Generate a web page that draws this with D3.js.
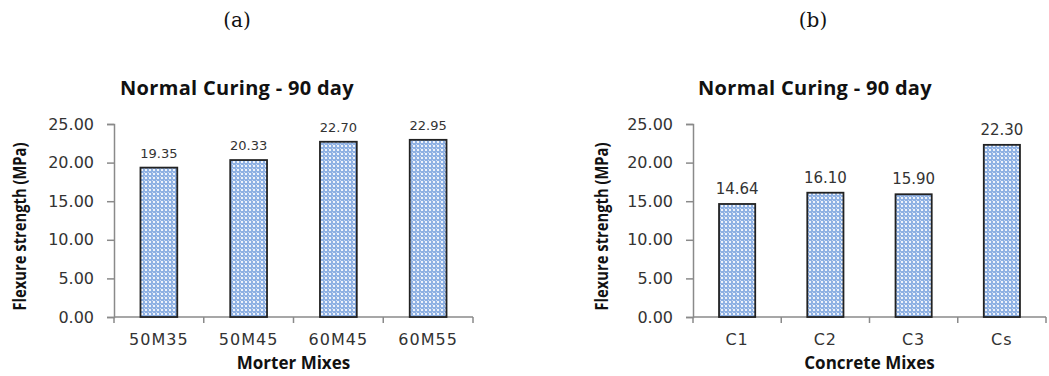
<!DOCTYPE html>
<html>
<head>
<meta charset="utf-8">
<script src="https://cdn.jsdelivr.net/npm/d3@7"></script>
<style>
  body { margin: 0; background: #fff; }
  svg { display: block; }
</style>
</head>
<body>
<svg id="chart"></svg>
<script>
// data
const mortarMixes = ['50M35', '50M45', '60M45', '60M55'];
const mortarStrength = [19.35, 20.33, 22.70, 22.95];
const concreteMixes = ['C1', 'C2', 'C3', 'Cs'];
const concreteStrength = [14.64, 16.10, 15.90, 22.30];
const yTicks = [0, 5, 10, 15, 20, 25];

const svg = d3.select('#chart')
  .attr('width', 1049)
  .attr('height', 376);

// hatch pattern like the excel fill
const defs = svg.append('defs');
const pat = defs.append('pattern')
  .attr('id', 'hatch')
  .attr('patternUnits', 'userSpaceOnUse')
  .attr('width', 4)
  .attr('height', 4);
pat.append('rect').attr('width', 4).attr('height', 4).attr('fill', '#8fb1e3');
pat.append('rect').attr('x', 1).attr('y', 1).attr('width', 2).attr('height', 2).attr('fill', '#eef3fb');
pat.append('rect').attr('x', 0).attr('y', 0).attr('width', 1).attr('height', 1).attr('fill', '#c9d9f2');

function drawPanel(cfg) {
  let g = svg.append('g');

  let x = d3.scaleBand()
    .domain(cfg.cats)
    .range([cfg.left, cfg.right])
    .paddingInner(0)
    .paddingOuter(0);

  let y = d3.scaleLinear()
    .domain([0, 25])
    .range([cfg.bottom, cfg.top]);

  // panel letter
  g.append('text')
    .attr('x', cfg.letterX)
    .attr('y', 27)
    .attr('text-anchor', 'middle')
    .style('font-family', '"DejaVu Serif", "Liberation Serif", serif')
    .style('font-size', '20px')
    .attr('fill', '#111')
    .text(cfg.letter);

  // title
  g.append('text')
    .attr('x', cfg.titleX)
    .attr('y', 95)
    .attr('text-anchor', 'middle')
    .style('font-family', '"Open Sans", sans-serif')
    .style('font-weight', 'bold')
    .style('font-size', '20px')
    .style('letter-spacing', '0.3px')
    .attr('fill', '#111')
    .text('Normal Curing - 90 day');

  // y axis
  let yAxis = g.append('g')
    .attr('transform', `translate(${cfg.left},0)`)
    .call(d3.axisLeft(y).tickValues(yTicks).tickFormat(d3.format('.2f')).tickSize(7).tickPadding(13));
  yAxis.select('.domain').attr('stroke', '#8a8a8a').attr('stroke-width', 1.5);
  yAxis.selectAll('.tick line').attr('stroke', '#8a8a8a').attr('stroke-width', 1.5);
  yAxis.selectAll('.tick text')
    .style('font-family', '"DejaVu Sans", sans-serif')
    .style('font-size', '16px')
    .attr('fill', '#333');

  // x axis (ticks between categories)
  let edges = cfg.cats.map(c => x(c)).concat([cfg.right]);
  g.append('line')
    .attr('x1', cfg.left).attr('x2', cfg.right)
    .attr('y1', cfg.bottom).attr('y2', cfg.bottom)
    .attr('stroke', '#8a8a8a').attr('stroke-width', 1.5);
  g.selectAll('.xtick')
    .data(edges)
    .enter()
    .append('line')
    .attr('x1', d => d).attr('x2', d => d)
    .attr('y1', cfg.bottom).attr('y2', cfg.bottom + 6)
    .attr('stroke', '#8a8a8a').attr('stroke-width', 1.5);

  g.selectAll('.xlab')
    .data(cfg.cats)
    .enter()
    .append('text')
    .attr('x', d => x(d) + x.bandwidth() / 2)
    .attr('y', 345)
    .attr('text-anchor', 'middle')
    .style('font-family', '"DejaVu Sans", sans-serif')
    .style('font-size', '16px')
    .style('letter-spacing', '1px')
    .attr('fill', '#333')
    .text(d => d);

  // bars
  let bw = x.bandwidth() * 0.41;
  g.selectAll('.bar')
    .data(cfg.values)
    .enter()
    .append('rect')
    .attr('x', (d, i) => x(cfg.cats[i]) + (x.bandwidth() - bw) / 2)
    .attr('y', d => y(d))
    .attr('width', bw)
    .attr('height', d => cfg.bottom - y(d))
    .attr('fill', 'url(#hatch)')
    .attr('stroke', '#222')
    .attr('stroke-width', 1.8);

  // value labels
  g.selectAll('.val')
    .data(cfg.values)
    .enter()
    .append('text')
    .attr('x', (d, i) => x(cfg.cats[i]) + x.bandwidth() / 2)
    .attr('y', d => y(d) - 10)
    .attr('text-anchor', 'middle')
    .style('font-family', '"DejaVu Sans", sans-serif')
    .style('font-size', cfg.valSize)
    .attr('fill', '#333')
    .text(d => d.toFixed(2));

  // axis titles
  g.append('text')
    .attr('x', (cfg.left + cfg.right) / 2)
    .attr('y', 369)
    .attr('text-anchor', 'middle')
    .style('font-family', '"Open Sans", sans-serif')
    .style('font-weight', 'bold')
    .style('font-size', '17px')
    .attr('fill', '#111')
    .text(cfg.xTitle);

  g.append('text')
    .attr('transform', `translate(${cfg.yTitleX},${(cfg.top + cfg.bottom) / 2 + 6}) rotate(-90)`)
    .attr('text-anchor', 'middle')
    .style('font-family', '"Liberation Sans Narrow", "Open Sans", sans-serif')
    .style('font-weight', 'bold')
    .style('font-size', '17px')
    .attr('textLength', 168)
    .attr('lengthAdjust', 'spacingAndGlyphs')
    .attr('fill', '#111')
    .text('Flexure strength (MPa)');
}

drawPanel({
  cats: mortarMixes, values: mortarStrength,
  left: 114, right: 473, top: 124, bottom: 317,
  letter: '(a)', letterX: 237, titleX: 237,
  xTitle: 'Morter Mixes', yTitleX: 26, valSize: '13px'
});

drawPanel({
  cats: concreteMixes, values: concreteStrength,
  left: 693, right: 1046, top: 124, bottom: 317,
  letter: '(b)', letterX: 813, titleX: 815,
  xTitle: 'Concrete Mixes', yTitleX: 608, valSize: '15px'
});
</script>
</body>
</html>
